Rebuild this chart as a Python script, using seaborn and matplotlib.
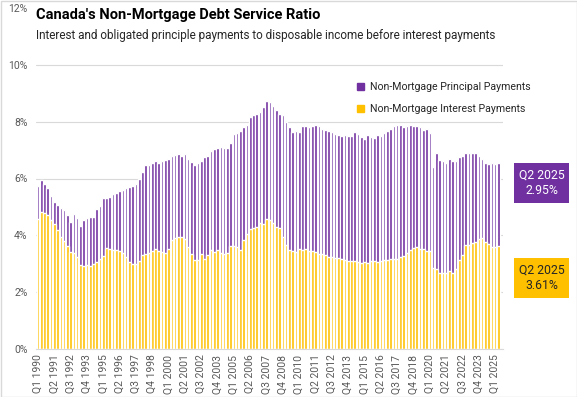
import pandas as pd
import matplotlib.pyplot as plt
import seaborn as sns
from matplotlib.patches import Patch, Rectangle

# quarterly, Q1 1990 .. Q2 2025, % of disposable income
total_dsr = [
    5.72, 5.95, 5.82, 5.65,  # 1990
    5.40, 5.18, 5.05, 4.95,  # 1991
    4.88, 4.70, 4.47, 4.74,  # 1992
    4.62, 4.32, 4.53, 4.62,  # 1993
    4.63, 4.65, 4.93, 5.02,  # 1994
    5.33, 5.33, 5.36, 5.44,  # 1995
    5.50, 5.55, 5.58, 5.66,  # 1996
    5.70, 5.75, 5.81, 5.99,  # 1997
    6.22, 6.46, 6.49, 6.53,  # 1998
    6.62, 6.55, 6.60, 6.64,  # 1999
    6.70, 6.78, 6.83, 6.87,  # 2000
    6.78, 6.87, 6.69, 6.57,  # 2001
    6.46, 6.53, 6.63, 6.75,  # 2002
    6.80, 6.97, 7.05, 7.09,  # 2003
    7.10, 7.08, 7.08, 7.24,  # 2004
    7.58, 7.61, 7.68, 7.82,  # 2005
    7.87, 8.18, 8.25, 8.28,  # 2006
    8.33, 8.50, 8.74, 8.70,  # 2007
    8.56, 8.41, 8.27, 8.22,  # 2008
    7.98, 7.80, 7.65, 7.66,  # 2009
    7.65, 7.86, 7.86, 7.80,  # 2010
    7.86, 7.88, 7.84, 7.74,  # 2011
    7.72, 7.66, 7.63, 7.56,  # 2012
    7.53, 7.51, 7.53, 7.48,  # 2013
    7.51, 7.63, 7.58, 7.45,  # 2014
    7.39, 7.53, 7.45, 7.41,  # 2015
    7.53, 7.50, 7.60, 7.68,  # 2016
    7.74, 7.86, 7.88, 7.90,  # 2017
    7.82, 7.86, 7.88, 7.86,  # 2018
    7.84, 7.82, 7.71, 7.75,  # 2019
    7.60, 6.41, 6.90, 6.65,  # 2020
    6.63, 6.55, 6.70, 6.60,  # 2021
    6.63, 6.74, 6.78, 6.88,  # 2022
    6.90, 6.88, 6.90, 6.80,  # 2023
    6.70, 6.55, 6.52, 6.53,  # 2024
    6.52, 6.56,              # 2025
]

interest = [
    4.56, 4.81, 4.80, 4.73,
    4.54, 4.39, 4.18, 3.95,
    3.80, 3.64, 3.40, 3.39,
    3.24, 2.95, 2.92, 2.97,
    2.91, 2.98, 3.05, 3.15,
    3.26, 3.57, 3.52, 3.50,
    3.47, 3.45, 3.39, 3.25,
    3.06, 3.00, 2.98, 3.10,
    3.30, 3.36, 3.38, 3.44,
    3.53, 3.46, 3.41, 3.38,
    3.53, 3.82, 3.91, 3.94,
    3.93, 3.86, 3.59, 3.36,
    3.12, 3.12, 3.36, 3.18,
    3.30, 3.47, 3.41, 3.50,
    3.38, 3.36, 3.38, 3.61,
    3.61, 3.59, 3.50, 3.82,
    4.04, 4.23, 4.27, 4.31,
    4.43, 4.41, 4.58, 4.53,
    4.43, 4.29, 4.25, 3.94,
    3.65, 3.47, 3.44, 3.41,
    3.51, 3.47, 3.53, 3.44,
    3.46, 3.40, 3.36, 3.33,
    3.30, 3.25, 3.22, 3.21,
    3.19, 3.15, 3.12, 3.11,
    3.11, 3.10, 3.05, 3.03,
    3.06, 3.03, 3.10, 3.08,
    3.06, 3.10, 3.12, 3.12,
    3.15, 3.15, 3.18, 3.22,
    3.27, 3.38, 3.50, 3.56,
    3.59, 3.51, 3.51, 3.45,
    3.45, 2.85, 2.83, 2.66,
    2.66, 2.66, 2.74, 2.68,
    2.83, 3.12, 3.32, 3.65,
    3.67, 3.74, 3.77, 3.88,
    3.92, 3.77, 3.68, 3.59,
    3.58, 3.61,
]

years = range(1990, 2026)
quarters = [f'Q{q} {y}' for y in years for q in range(1, 5)][:len(total_dsr)]
yticks = [0, 2, 4, 6, 8, 10, 12]

purple = '#7030A0'
gold = '#FFC000'
grey = '#595959'

sns.set_style('white')
plt.rcParams['font.family'] = ['Roboto', 'DejaVu Sans']

df = pd.DataFrame({'quarter': quarters, 'total': total_dsr, 'interest': interest})

fig = plt.figure(figsize=(5.77, 3.97), dpi=100)
ax = fig.add_axes([36/577, 1-349/397, (503-36)/577, (349-8)/397])

# total first (purple), interest drawn over it -> stacked look
sns.barplot(data=df, x='quarter', y='total', color=purple, saturation=1,
            width=0.8, errorbar=None, ax=ax)
sns.barplot(data=df, x='quarter', y='interest', color=gold, saturation=1,
            width=0.8, errorbar=None, ax=ax)

ax.set_xlim(-0.6, len(quarters) + 0.4)
ax.set_ylim(0, 12)
ax.set_yticks(yticks)
ax.set_yticklabels([f'{v}%' for v in yticks])
ax.set_xticks(range(0, len(quarters), 5))
ax.set_xticklabels(quarters[::5], rotation=90)
ax.set_xlabel('')
ax.set_ylabel('')
ax.yaxis.grid(True, color='#d9d9d9', lw=0.8)
ax.set_axisbelow(True)
ax.get_ygridlines()[-1].set_visible(False)
for s in ['top', 'right', 'left']:
    ax.spines[s].set_visible(False)
ax.spines['bottom'].set_color('#d9d9d9')
ax.tick_params(axis='both', length=0, colors=grey, labelsize=7.5)
ax.tick_params(axis='y', pad=6)
ax.tick_params(axis='x', pad=4)

fig.text(36/577, 1-8/397, "Canada's Non-Mortgage Debt Service Ratio",
         fontsize=10.5, fontweight='bold', color='#000000', va='top')
fig.text(36/577, 1-29/397,
         'Interest and obligated principle payments to disposable income before interest payments',
         fontsize=8.5, color='#262626', va='top')

handles = [Patch(color=purple), Patch(color=gold)]
fig.legend(handles, ['Non-Mortgage Principal Payments', 'Non-Mortgage Interest Payments'],
           loc='upper left', bbox_to_anchor=(357/577, 1-82/397), frameon=False,
           fontsize=7.6, handlelength=0.7, handleheight=0.7, handletextpad=0.5,
           labelspacing=1.15, borderpad=0, borderaxespad=0, labelcolor='#262626')

# callout boxes for the latest quarter
last_q = quarters[-1]
principal_last = total_dsr[-1] - interest[-1]
fig.add_artist(Rectangle((514/577, 1-203/397), 55/577, 40/397,
                         transform=fig.transFigure, color=purple, lw=0))
fig.text(541.5/577, 1-183/397, f'{last_q}\n{principal_last:.2f}%', color='white',
         fontsize=8.8, ha='center', va='center', linespacing=1.25)
fig.add_artist(Rectangle((514/577, 1-298/397), 55/577, 40/397,
                         transform=fig.transFigure, color=gold, lw=0))
fig.text(541.5/577, 1-278/397, f'{last_q}\n{interest[-1]:.2f}%', color='#262626',
         fontsize=8.8, ha='center', va='center', linespacing=1.25)

fig.add_artist(Rectangle((0.5/577, 0.5/397), 576/577, 396/397, transform=fig.transFigure,
                         fill=False, edgecolor='#d9d9d9', lw=1))

fig.savefig('out.png', dpi=100)
plt.close()
